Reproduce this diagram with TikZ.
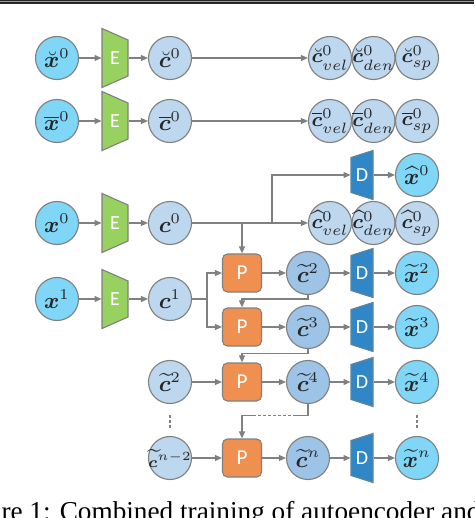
\documentclass[tikz,border=0pt]{standalone}
\usepackage{bm}
\usepackage{fontspec}
\setmainfont{Liberation Serif}
\newfontfamily\blockfont{Carlito}
\usetikzlibrary{arrows.meta}

\definecolor{inblue}{RGB}{127,214,246}
\definecolor{codeblue}{RGB}{189,215,238}
\definecolor{predblue}{RGB}{157,195,230}
\definecolor{encgreen}{RGB}{153,209,96}
\definecolor{decblue}{RGB}{48,135,200}
\definecolor{porange}{RGB}{240,144,80}
\definecolor{edgegray}{RGB}{128,128,128}

\tikzset{
  ball/.style={circle, draw=edgegray, line width=0.45pt, minimum size=17.2pt, inner sep=-4pt, text=black!85, font=\small},
  xball/.style={ball, fill=inblue},
  cball/.style={ball, fill=codeblue},
  pball/.style={ball, fill=predblue},
  subball/.style={cball, font=\footnotesize},
  blocklabel/.style={inner sep=0pt, minimum height=14pt, text=white, font=\blockfont\fontsize{8}{9}\selectfont},
  encshape/.style={fill=encgreen, draw=edgegray, line width=0.45pt},
  decshape/.style={fill=decblue, draw=edgegray!60!decblue, line width=0.45pt},
  pbox/.style={blocklabel, rectangle, rounded corners=2pt, fill=porange, draw=edgegray, line width=0.45pt, minimum width=15.6pt, minimum height=15.2pt, font=\blockfont\fontsize{8.5}{10}\selectfont},
  link/.style={edgegray, line width=0.5pt},
  conn/.style={link, -{Triangle[length=2.8pt,width=2.4pt]}},
  brokenlink/.style={link, dash pattern=on 1.2pt off 0.8pt}
}

\begin{document}
\begin{tikzpicture}[x=0.4pt, y=-0.4pt]
  \clip (0,0) rectangle (474,518);
  % top rule
  \fill[black!85] (0,0) rectangle (474,3.6);
  \draw[black!40, line width=0.35pt] (0,1.8) -- (474,1.8);

  % inputs
  \node[xball] (xbr) at (57,58) {$\breve{\bm x}^0$};
  \node[xball] (xbar) at (57,121) {$\overline{\bm x}^0$};
  \node[xball] (x0) at (57,223) {$\bm x^0$};
  \node[xball] (x1) at (57,299) {$\bm x^1$};

  % encoders
  \foreach \n/\y in {ebr/58, ebar/121, e0/223, e1/299}{
    \filldraw[encshape] (102,\y-29.5) -- (128,\y-18) -- (128,\y+18) -- (102,\y+29.5) -- cycle;
    \node[blocklabel, minimum width=10.4pt] (\n) at (115,\y) {E};
  }

  % codes
  \node[cball] (cbr) at (170,58) {$\breve{\bm c}^0$};
  \node[cball] (cbar) at (170,121) {$\overline{\bm c}^0$};
  \node[cball] (c0) at (170,223) {$\bm c^0$};
  \node[cball] (c1) at (170,299) {$\bm c^1$};
  \node[cball] (cl2) at (170,382) {$\widetilde{\bm c}^2$};
  \node[cball, font=\fontsize{6.3}{7}\selectfont] (cln) at (170,458) {$\widetilde{\bm c}^{n-2}$};

  % split codes
  \node[subball] (vbr) at (330,58) {$\breve{\bm c}^0_{vel}$};
  \node[subball] (dbr) at (373.5,58) {$\breve{\bm c}^0_{den}$};
  \node[subball] (sbr) at (417,58) {$\breve{\bm c}^0_{sp}$};
  \node[subball] (vbar) at (330,121) {$\overline{\bm c}^0_{vel}$};
  \node[subball] (dbar) at (373.5,121) {$\overline{\bm c}^0_{den}$};
  \node[subball] (sbar) at (417,121) {$\overline{\bm c}^0_{sp}$};
  \node[subball] (vhat) at (330,223) {$\widehat{\bm c}^0_{vel}$};
  \node[subball] (dhat) at (373.5,223) {$\widehat{\bm c}^0_{den}$};
  \node[subball] (shat) at (417,223) {$\widehat{\bm c}^0_{sp}$};

  % prediction
  \node[pbox] (p1) at (242,273) {P};
  \node[pbox] (p2) at (242,327) {P};
  \node[pbox] (p3) at (242,382) {P};
  \node[pbox] (p4) at (242,458) {P};
  \node[pball] (ct2) at (308,273) {$\widetilde{\bm c}^2$};
  \node[pball] (ct3) at (308,327) {$\widetilde{\bm c}^3$};
  \node[pball] (ct4) at (308,382) {$\widetilde{\bm c}^4$};
  \node[pball] (ctn) at (308,458) {$\widetilde{\bm c}^n$};

  % decoders
  \foreach \n/\y in {d0/175, d2/273, d3/327, d4/382, dn/458}{
    \filldraw[decshape] (351,\y-17.5) -- (373,\y-24.5) -- (373,\y+24.5) -- (351,\y+17.5) -- cycle;
    \node[blocklabel, minimum width=8.8pt] (\n) at (362,\y) {D};
  }
  \node[xball] (xh0) at (417,175) {$\widehat{\bm x}^0$};
  \node[xball] (xt2) at (417,273) {$\widetilde{\bm x}^2$};
  \node[xball] (xt3) at (417,327) {$\widetilde{\bm x}^3$};
  \node[xball] (xt4) at (417,382) {$\widetilde{\bm x}^4$};
  \node[xball] (xtn) at (417,458) {$\widetilde{\bm x}^n$};

  % straight links
  \foreach \a/\b in {xbr/ebr, ebr/cbr, cbr/vbr, xbar/ebar, ebar/cbar, cbar/vbar,
                     x0/e0, e0/c0, c0/vhat, x1/e1, e1/c1, d0/xh0,
                     p1/ct2, ct2/d2, d2/xt2, p2/ct3, ct3/d3, d3/xt3,
                     cl2/p3, p3/ct4, ct4/d4, d4/xt4, cln/p4, p4/ctn, ctn/dn, dn/xtn}
    \draw[conn] (\a) -- (\b);

  % branches
  \coordinate (j0) at (272,223);
  \draw[conn] (j0) |- (d0);
  \draw[conn] (c0) -| (p1);
  \coordinate (j1) at (207,299);
  \draw[link] (c1) -- (j1);
  \draw[conn] (j1) |- (p1);
  \draw[conn] (j1) |- (p2);

  % feedback
  \draw[conn] (ct2.south) -- ++(0,4) -| (p2);
  \draw[conn] (ct3.south) -- ++(0,4.5) -| (p3);
  \draw[link] (ct4.south) -- ++(0,11.5) coordinate (k1) -- ++(-12,0) coordinate (k2);
  \draw[brokenlink] (k2) -- ++(-41,0) coordinate (k3);
  \draw[conn] (k3) -| (p4);

  % vertical dots
  \draw[brokenlink] (cl2.south) ++(0,10.5) -- ++(0,13);
  \draw[brokenlink] (xt4.south) ++(0,10.5) -- ++(0,13);

  % caption
  \node[anchor=base west, inner sep=0pt, font=\fontsize{10.9}{13}\selectfont] (cap) at (1,520) {re 1: Combined training of autoencoder and};
\end{tikzpicture}
\end{document}
